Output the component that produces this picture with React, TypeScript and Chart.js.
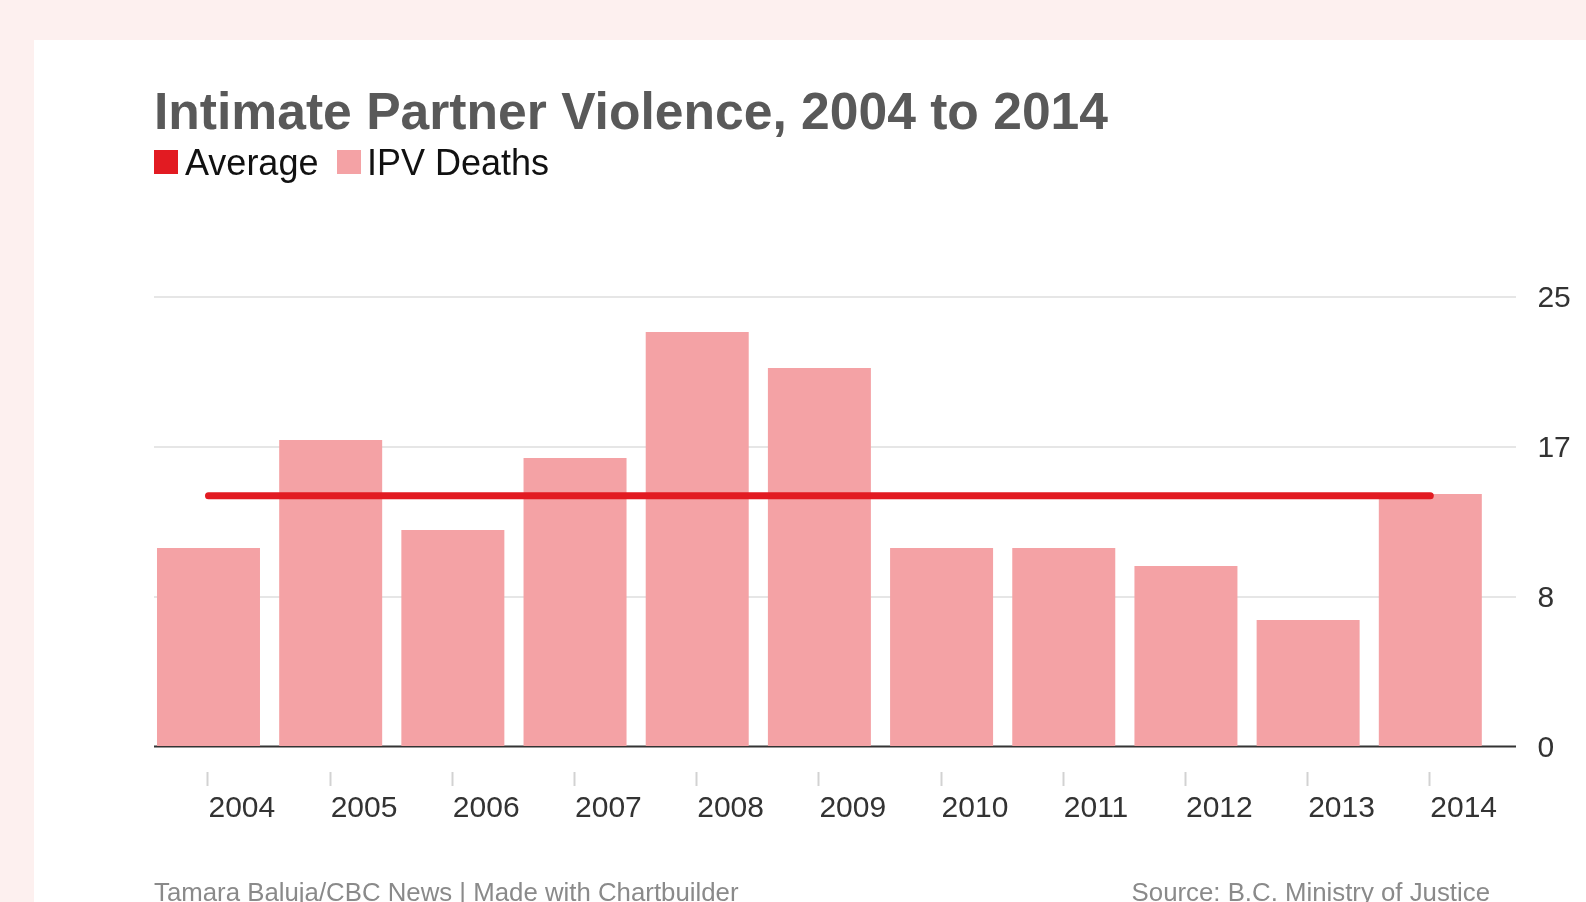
import React, { useEffect, useRef } from "react";
import { Chart, registerables } from "chart.js";

Chart.register(...registerables);

const YEARS = ["2004", "2005", "2006", "2007", "2008", "2009", "2010", "2011", "2012", "2013", "2014"];
const IPV_DEATHS = [11, 17, 12, 16, 23, 21, 11, 11, 10, 7, 14];
const AVERAGE = [13.9, 13.9, 13.9, 13.9, 13.9, 13.9, 13.9, 13.9, 13.9, 13.9, 13.9];
const Y_TICKS = [0, 8.3333, 16.6667, 25];
const Y_TICK_LABELS = ["0", "8", "17", "25"];

const FONT = '"Liberation Sans", Arial, Helvetica, sans-serif';
const BAR_COLOR = "#f4a2a5";
const LINE_COLOR = "#e21b22";
const W = 1586;
const H = 902;
const GRID_LEFT = 154;
const GRID_RIGHT = 1516;

const decor = {
  id: "decor",
  beforeDatasetsDraw(chart: any) {
    const { ctx, scales } = chart;
    const x = scales.x;
    const y = scales.y;
    ctx.save();
    ctx.lineWidth = 2;
    ctx.strokeStyle = "#e6e6e6";
    y.ticks.forEach((t: any) => {
      if (t.value === 0) return;
      const py = Math.round(y.getPixelForValue(t.value)) + 1;
      ctx.beginPath();
      ctx.moveTo(GRID_LEFT, py);
      ctx.lineTo(GRID_RIGHT, py);
      ctx.stroke();
    });
    const y0 = y.getPixelForValue(0);
    ctx.strokeStyle = "#333333";
    ctx.lineWidth = 2;
    ctx.beginPath();
    ctx.moveTo(GRID_LEFT, y0 + 0.5);
    ctx.lineTo(GRID_RIGHT, y0 + 0.5);
    ctx.stroke();
    ctx.strokeStyle = "#d2d2d2";
    ctx.lineWidth = 2;
    x.ticks.forEach((_t: any, i: number) => {
      const px = Math.round(x.getPixelForTick(i)) - 0.5;
      ctx.beginPath();
      ctx.moveTo(px, y0 + 26);
      ctx.lineTo(px, y0 + 40);
      ctx.stroke();
    });
    ctx.restore();
  },
};

export default function App() {
  const canvasRef = useRef<HTMLCanvasElement | null>(null);

  useEffect(() => {
    if (!canvasRef.current) return;
    const chart = new Chart(canvasRef.current, {
      data: {
        labels: YEARS,
        datasets: [
          {
            type: "line",
            label: "Average",
            data: AVERAGE,
            borderColor: LINE_COLOR,
            backgroundColor: LINE_COLOR,
            borderWidth: 7,
            borderCapStyle: "round",
            pointRadius: 0,
            tension: 0,
            order: 0,
          },
          {
            type: "bar",
            label: "IPV Deaths",
            data: IPV_DEATHS,
            backgroundColor: BAR_COLOR,
            borderWidth: 0,
            barPercentage: 0.843,
            categoryPercentage: 1.0,
            order: 1,
          },
        ],
      } as any,
      options: {
        responsive: false,
        animation: false,
        devicePixelRatio: 1,
        events: [],
        layout: { padding: { left: 147.4, right: 0, top: 296, bottom: 76 } },
        plugins: {
          legend: { display: false },
          tooltip: { enabled: false },
          title: { display: false },
        },
        scales: {
          x: {
            type: "category",
            offset: true,
            grid: { display: false, drawTicks: false },
            border: { display: false },
            ticks: {
              align: "start",
              padding: 44.5,
              maxRotation: 0,
              minRotation: 0,
              autoSkip: false,
              color: "#333333",
              font: { family: FONT, size: 30 },
            },
            afterFit: (s: any) => {
              s.height = 80;
            },
          },
          y: {
            type: "linear",
            position: "right",
            min: 0,
            max: 25,
            grid: { display: false, drawTicks: false },
            border: { display: false },
            afterBuildTicks: (s: any) => {
              s.ticks = Y_TICKS.map((v) => ({ value: v }));
            },
            ticks: {
              padding: 46,
              labelOffset: 2.5,
              color: "#333333",
              font: { family: FONT, size: 30 },
              callback: (_v: any, i: number) => Y_TICK_LABELS[i],
            },
            afterFit: (s: any) => {
              s.width = 94.6;
            },
          },
        },
      } as any,
      plugins: [decor],
    });
    return () => chart.destroy();
  }, []);

  const abs: React.CSSProperties = { position: "absolute", whiteSpace: "nowrap", fontFamily: FONT };

  return (
    <div style={{ position: "fixed", left: 0, top: 0, width: W, height: H, background: "#fdf0ef", overflow: "hidden" }}>
      <div style={{ position: "absolute", left: 34, top: 40, width: W - 34, height: H - 40, background: "#ffffff" }} />
      <canvas ref={canvasRef} width={W} height={H} style={{ position: "absolute", left: 0, top: 0, width: W, height: H, display: "block" }} />
      <div style={{ ...abs, left: 154, top: 85, fontSize: 51.6, lineHeight: "52px", fontWeight: "bold", color: "#595959" }}>
        Intimate Partner Violence, 2004 to 2014
      </div>
      <div style={{ position: "absolute", left: 154, top: 150, width: 24, height: 24, background: LINE_COLOR }} />
      <div style={{ ...abs, left: 185, top: 144.5, fontSize: 36, lineHeight: "36px", color: "#111111" }}>Average</div>
      <div style={{ position: "absolute", left: 337, top: 150, width: 24, height: 24, background: BAR_COLOR }} />
      <div style={{ ...abs, left: 367, top: 144.5, fontSize: 36, lineHeight: "36px", color: "#111111" }}>IPV Deaths</div>
      <div style={{ ...abs, left: 154, top: 879, fontSize: 25.8, lineHeight: "26px", color: "#8a8a8a" }}>
        Tamara Baluja/CBC News | Made with Chartbuilder
      </div>
      <div style={{ ...abs, right: 96, top: 879, fontSize: 25.8, lineHeight: "26px", color: "#8a8a8a", textAlign: "right" }}>
        Source: B.C. Ministry of Justice
      </div>
    </div>
  );
}
